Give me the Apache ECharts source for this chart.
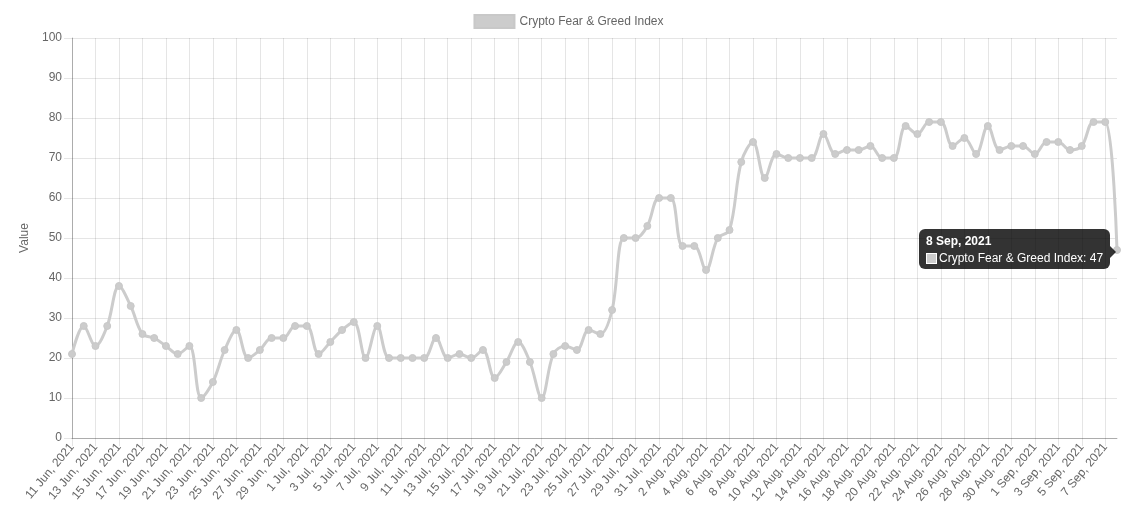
<!DOCTYPE html>
<html>
<head>
<meta charset="utf-8">
<script src="https://cdn.jsdelivr.net/npm/echarts@6/dist/echarts.min.js"></script>
<style>
html,body{margin:0;padding:0;background:#fff;}
#chart{width:1137px;height:523px;}
</style>
</head>
<body>
<div id="chart"></div>
<script>
const seriesName = 'Crypto Fear & Greed Index';
const categories = [
 '11 Jun, 2021','12 Jun, 2021','13 Jun, 2021','14 Jun, 2021','15 Jun, 2021','16 Jun, 2021','17 Jun, 2021','18 Jun, 2021','19 Jun, 2021','20 Jun, 2021',
 '21 Jun, 2021','22 Jun, 2021','23 Jun, 2021','24 Jun, 2021','25 Jun, 2021','26 Jun, 2021','27 Jun, 2021','28 Jun, 2021','29 Jun, 2021','30 Jun, 2021',
 '1 Jul, 2021','2 Jul, 2021','3 Jul, 2021','4 Jul, 2021','5 Jul, 2021','6 Jul, 2021','7 Jul, 2021','8 Jul, 2021','9 Jul, 2021','10 Jul, 2021',
 '11 Jul, 2021','12 Jul, 2021','13 Jul, 2021','14 Jul, 2021','15 Jul, 2021','16 Jul, 2021','17 Jul, 2021','18 Jul, 2021','19 Jul, 2021','20 Jul, 2021',
 '21 Jul, 2021','22 Jul, 2021','23 Jul, 2021','24 Jul, 2021','25 Jul, 2021','26 Jul, 2021','27 Jul, 2021','28 Jul, 2021','29 Jul, 2021','30 Jul, 2021',
 '31 Jul, 2021','1 Aug, 2021','2 Aug, 2021','3 Aug, 2021','4 Aug, 2021','5 Aug, 2021','6 Aug, 2021','7 Aug, 2021','8 Aug, 2021','9 Aug, 2021',
 '10 Aug, 2021','11 Aug, 2021','12 Aug, 2021','13 Aug, 2021','14 Aug, 2021','15 Aug, 2021','16 Aug, 2021','17 Aug, 2021','18 Aug, 2021','19 Aug, 2021',
 '20 Aug, 2021','21 Aug, 2021','22 Aug, 2021','23 Aug, 2021','24 Aug, 2021','25 Aug, 2021','26 Aug, 2021','27 Aug, 2021','28 Aug, 2021','29 Aug, 2021',
 '30 Aug, 2021','31 Aug, 2021','1 Sep, 2021','2 Sep, 2021','3 Sep, 2021','4 Sep, 2021','5 Sep, 2021','6 Sep, 2021','7 Sep, 2021','8 Sep, 2021'
];
const values = [
 21,28,23,28,38,33,26,25,23,21,
 23,10,14,22,27,20,22,25,25,28,
 28,21,24,27,29,20,28,20,20,20,
 20,25,20,21,20,22,15,19,24,19,
 10,21,23,22,27,26,32,50,50,53,
 60,60,48,48,42,50,52,69,74,65,
 71,70,70,70,76,71,72,72,73,70,
 70,78,76,79,79,73,75,71,78,72,
 73,73,71,74,74,72,73,79,79,47
];
const yTicks = [0,10,20,30,40,50,60,70,80,90,100];

const FONT = 'Liberation Sans, Arial, Helvetica, sans-serif';
const chart = echarts.init(document.getElementById('chart'), null, {renderer:'canvas'});
chart.setOption({
  animation: false,
  textStyle: {fontFamily: FONT},
  legend: {
    top: 9, left: 'center',
    icon: 'rect', itemWidth: 40, itemHeight: 13, itemGap: 10,
    textStyle: {color: '#666', fontSize: 12, fontFamily: FONT},
    data: [seriesName]
  },
  grid: {left: 72, right: 20, top: 38, bottom: 85, containLabel: false},
  tooltip: {
    trigger: 'item',
    alwaysShowContent: true,
    backgroundColor: 'rgba(0,0,0,0.8)',
    borderWidth: 0,
    padding: [5, 7, 3, 7],
    extraCssText: 'border-radius:6px;box-shadow:none;overflow:visible;',
    textStyle: {color: '#fff', fontSize: 12, fontFamily: FONT},
    transitionDuration: 0,
    position: function () { return [919, 229]; },
    formatter: function (p) {
      return '<div style="position:relative;line-height:15px;font-family:' + FONT + ';font-size:12px;color:#fff;">' +
        '<div style="font-weight:bold;margin-bottom:2px;">' + categories[p.dataIndex] + '</div>' +
        '<div><span style="display:inline-block;width:11px;height:11px;background:#ccc;border:1px solid #fff;margin-right:2px;vertical-align:-2px;box-sizing:border-box;"></span>' +
        seriesName + ': ' + values[p.dataIndex] + '</div>' +
        '<span style="position:absolute;right:-13px;top:12px;width:0;height:0;border-top:6px solid transparent;border-bottom:6px solid transparent;border-left:6px solid rgba(0,0,0,0.8);"></span>' +
        '</div>';
    }
  },
  xAxis: {
    type: 'category',
    data: categories,
    boundaryGap: false,
    axisLine: {show: true, lineStyle: {color: 'rgba(0,0,0,0.25)', width: 1}},
    axisTick: {show: true, interval: 1, length: 8, lineStyle: {color: 'rgba(0,0,0,0.1)'}},
    splitLine: {show: true, interval: 1, lineStyle: {color: 'rgba(0,0,0,0.1)', width: 1}},
    axisLabel: {interval: 1, rotate: 50, color: '#666', fontSize: 12, margin: 7, fontFamily: FONT}
  },
  yAxis: {
    type: 'value',
    min: yTicks[0], max: yTicks[yTicks.length - 1], interval: 10,
    name: 'Value', nameLocation: 'middle', nameGap: 40, nameRotate: 90,
    nameTextStyle: {color: '#666', fontSize: 12, fontFamily: FONT},
    axisLine: {show: true, lineStyle: {color: 'rgba(0,0,0,0.25)', width: 1}},
    axisTick: {show: true, length: 8, lineStyle: {color: 'rgba(0,0,0,0.1)'}},
    splitLine: {show: true, lineStyle: {color: 'rgba(0,0,0,0.1)', width: 1}},
    axisLabel: {color: '#666', fontSize: 12, margin: 10, fontFamily: FONT}
  },
  series: [{
    name: seriesName,
    type: 'line',
    data: values,
    smooth: 0.35,
    symbol: 'circle',
    symbolSize: 7,
    showAllSymbol: true,
    itemStyle: {color: '#cccccc', borderColor: '#c8c8c8', borderWidth: 1},
    lineStyle: {color: '#cccccc', width: 3},
    emphasis: {scale: 1.3}
  }]
});
chart.dispatchAction({type: 'showTip', seriesIndex: 0, dataIndex: values.length - 1});
</script>
</body>
</html>
